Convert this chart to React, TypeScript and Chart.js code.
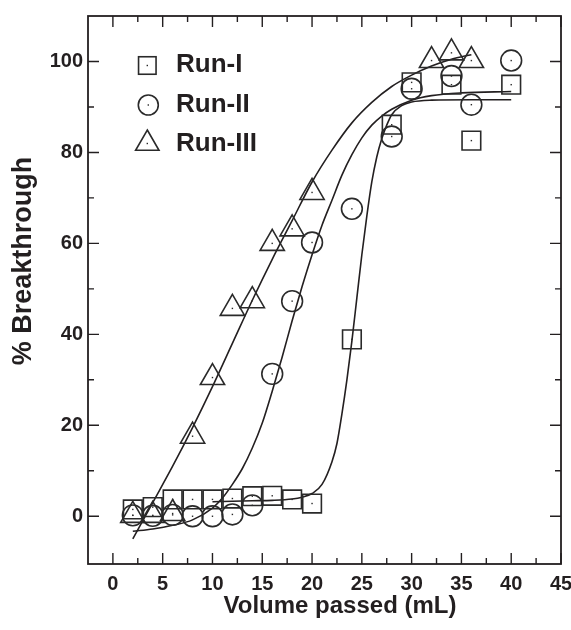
import React, { useEffect, useRef } from "react";
import { Chart, registerables } from "chart.js";

Chart.register(...registerables);

const FONT = "'Liberation Sans', Arial, Helvetica, sans-serif";
const INK = "#231f20";

// Measured points
const runIVolume = [2, 4, 6, 8, 10, 12, 14, 16, 18, 20, 24, 28, 30, 34, 36, 40];
const runIValues = [1.5, 2.0, 3.7, 3.7, 3.7, 3.9, 4.4, 4.5, 3.7, 2.8, 38.9, 86.1, 95.4, 94.9, 82.6, 94.9];
const runIIVolume = [2, 4, 6, 8, 10, 12, 14, 16, 18, 20, 24, 28, 30, 34, 36, 40];
const runIIValues = [0.2, 0.1, 0.3, 0.0, 0.0, 0.4, 2.4, 31.3, 47.3, 60.2, 67.6, 83.5, 94.0, 96.8, 90.5, 100.2];
const runIIIVolume = [2, 4, 6, 8, 10, 12, 14, 16, 18, 20, 32, 34, 36];
const runIIIValues = [0.2, 0.2, 0.6, 17.6, 30.5, 45.7, 47.4, 60.0, 63.2, 71.2, 100.2, 101.9, 100.2];

// Fitted curves
const fitIVolume = [10, 12, 14, 16, 18, 19, 20, 21, 22, 22.5, 23, 23.5, 24, 24.5, 25, 25.5, 26, 26.5, 27, 27.5, 28, 29, 30, 32, 36, 40];
const fitIValues = [3.2, 3.3, 3.4, 3.5, 3.8, 4.2, 5.0, 7.0, 12.0, 16.0, 22.5, 30.0, 38.5, 48.0, 57.5, 66.0, 73.5, 79.0, 83.0, 86.0, 88.3, 90.3, 91.1, 91.5, 91.6, 91.6];
const fitIIVolume = [2, 4, 6, 8, 10, 11, 12, 13, 14, 15, 16, 17, 18, 19, 20, 21, 22, 23, 24, 25, 26, 27, 28, 30, 32, 35, 40];
const fitIIValues = [-3.3, -2.8, -2.0, -0.8, 1.8, 4.0, 7.0, 10.5, 15.0, 20.5, 27.5, 35.0, 43.0, 50.5, 57.5, 64.0, 69.5, 75.0, 79.5, 83.2, 86.0, 88.0, 89.5, 91.5, 92.5, 93.1, 93.4];
const fitIIIVolume = [2, 4, 6, 8, 10, 12, 14, 16, 18, 20, 22, 24, 26, 28, 30, 32, 34, 36];
const fitIIIValues = [-5.0, 3.0, 11.0, 19.5, 28.5, 38.0, 47.5, 56.5, 65.0, 73.5, 80.5, 86.5, 91.0, 94.5, 97.0, 99.0, 100.5, 101.5];

// Axes
const xTicks = [0, 5, 10, 15, 20, 25, 30, 35, 40, 45];
const xMinorTicks = [2.5, 7.5, 12.5, 17.5, 22.5, 27.5, 32.5, 37.5, 42.5];
const yTicks = [0, 20, 40, 60, 80, 100];
const yMinorTicks = [10, 30, 50, 70, 90];
const seriesNames = ["Run-I", "Run-II", "Run-III"];
const xTitle = "Volume passed (mL)";
const yTitle = "% Breakthrough";

const pts = (xs: number[], ys: number[]) => xs.map((x, i) => ({ x, y: ys[i] }));

const markerDataset = (label: string, data: any[], style: string, radius: number) => ({
  label,
  data,
  pointStyle: style,
  pointRadius: radius,
  pointHoverRadius: radius,
  pointBorderWidth: 1.6,
  pointBorderColor: "#2a2a2a",
  pointBackgroundColor: "rgba(0,0,0,0)",
  showLine: false,
  isMarker: true,
  clip: false,
  order: 1,
});

const fitDataset = (data: any[]) => ({
  label: "fit",
  data,
  showLine: true,
  pointRadius: 0,
  borderColor: INK,
  borderWidth: 1.6,
  cubicInterpolationMode: "monotone",
  fill: false,
  isMarker: false,
  order: 2,
});

const framePlugin = {
  id: "frame",
  afterDatasetsDraw(chart: any) {
    const { ctx, chartArea } = chart;
    const { left, right, top, bottom } = chartArea;
    const xs = chart.scales.x;
    const ys = chart.scales.y;
    ctx.save();
    ctx.fillStyle = "#2a2a2a";
    chart.data.datasets.forEach((ds: any, i: number) => {
      if (!ds.isMarker) return;
      chart.getDatasetMeta(i).data.forEach((el: any) => {
        ctx.fillRect(el.x - 0.7, el.y - 0.7, 1.4, 1.4);
      });
    });
    ctx.strokeStyle = INK;
    ctx.lineWidth = 1.8;
    ctx.strokeRect(left, top, right - left, bottom - top);
    ctx.lineWidth = 1.4;
    const major = 11;
    const minor = 6;
    const vTick = (v: number, len: number) => {
      const px = xs.getPixelForValue(v);
      ctx.beginPath();
      ctx.moveTo(px, bottom);
      ctx.lineTo(px, bottom - len);
      ctx.moveTo(px, top);
      ctx.lineTo(px, top + len);
      ctx.stroke();
    };
    const hTick = (v: number, len: number) => {
      const py = ys.getPixelForValue(v);
      ctx.beginPath();
      ctx.moveTo(left, py);
      ctx.lineTo(left + len, py);
      ctx.moveTo(right, py);
      ctx.lineTo(right - len, py);
      ctx.stroke();
    };
    xTicks.forEach((v) => vTick(v, major));
    xMinorTicks.forEach((v) => vTick(v, minor));
    yTicks.forEach((v) => hTick(v, major));
    yMinorTicks.forEach((v) => hTick(v, minor));
    ctx.restore();
  },
  afterDraw(chart: any) {
    const { ctx } = chart;
    ctx.save();
    ctx.fillStyle = INK;
    ctx.font = `bold 24px ${FONT}`;
    ctx.textAlign = "center";
    ctx.textBaseline = "middle";
    ctx.fillText(xTitle, 340, 606);
    ctx.save();
    ctx.font = `bold 27px ${FONT}`;
    ctx.translate(24, 261);
    ctx.rotate(-Math.PI / 2);
    ctx.fillText(yTitle, 0, 0);
    ctx.restore();

    ctx.strokeStyle = "#2a2a2a";
    ctx.fillStyle = "#2a2a2a";
    ctx.lineWidth = 1.6;
    const s = 17.5;
    ctx.strokeRect(147.3 - s / 2, 65.5 - s / 2, s, s);
    ctx.fillRect(147.3 - 0.7, 65.5 - 0.7, 1.4, 1.4);
    ctx.beginPath();
    ctx.arc(148.3, 105, 10, 0, Math.PI * 2);
    ctx.stroke();
    ctx.fillRect(148.3 - 0.7, 105 - 0.7, 1.4, 1.4);
    const tr = 13.5;
    const tx = 147.3;
    const ty = 143.5;
    ctx.beginPath();
    ctx.moveTo(tx, ty - tr);
    ctx.lineTo(tx + tr * Math.sin((2 * Math.PI) / 3), ty + tr / 2);
    ctx.lineTo(tx - tr * Math.sin((2 * Math.PI) / 3), ty + tr / 2);
    ctx.closePath();
    ctx.stroke();
    ctx.fillRect(tx - 0.7, ty - 0.7, 1.4, 1.4);

    ctx.fillStyle = INK;
    ctx.font = `bold 26px ${FONT}`;
    ctx.textAlign = "left";
    ctx.textBaseline = "alphabetic";
    ctx.fillText(seriesNames[0], 176, 72);
    ctx.fillText(seriesNames[1], 176, 112);
    ctx.fillText(seriesNames[2], 176, 150.5);
    ctx.restore();
  },
};

export default function App() {
  const ref = useRef<HTMLCanvasElement | null>(null);
  useEffect(() => {
    if (!ref.current) return;
    const chart = new Chart(ref.current, {
      type: "scatter",
      data: {
        datasets: [
          fitDataset(pts(fitIVolume, fitIValues)),
          fitDataset(pts(fitIIVolume, fitIIValues)),
          fitDataset(pts(fitIIIVolume, fitIIIValues)),
          markerDataset(seriesNames[0], pts(runIVolume, runIValues), "rect", 13.2),
          markerDataset(seriesNames[1], pts(runIIVolume, runIIValues), "circle", 10.4),
          markerDataset(seriesNames[2], pts(runIIIVolume, runIIIValues), "triangle", 14),
        ] as any,
      },
      options: {
        animation: false,
        responsive: false,
        layout: { autoPadding: false, padding: { top: 16, right: 10, left: 0, bottom: 0 } },
        plugins: { legend: { display: false }, tooltip: { enabled: false } },
        scales: {
          x: {
            type: "linear",
            min: -2.5,
            max: 45,
            afterFit: (s: any) => {
              s.height = 66;
              s.paddingLeft = 0;
              s.paddingRight = 0;
              s.paddingTop = 0;
              s.paddingBottom = 0;
            },
            afterBuildTicks: (s: any) => {
              s.ticks = xTicks.map((v) => ({ value: v }));
            },
            grid: { display: false, drawTicks: false },
            border: { display: false },
            ticks: {
              padding: 8,
              color: INK,
              font: { family: FONT, size: 20, weight: "bold" },
              maxRotation: 0,
            },
          },
          y: {
            type: "linear",
            min: -10.5,
            max: 110,
            afterFit: (s: any) => {
              s.width = 88;
              s.paddingLeft = 0;
              s.paddingRight = 0;
              s.paddingTop = 0;
              s.paddingBottom = 0;
            },
            afterBuildTicks: (s: any) => {
              s.ticks = yTicks.map((v) => ({ value: v }));
            },
            grid: { display: false, drawTicks: false },
            border: { display: false },
            ticks: {
              padding: 5,
              color: INK,
              font: { family: FONT, size: 20, weight: "bold" },
            },
          },
        },
      } as any,
      plugins: [framePlugin],
    });
    return () => chart.destroy();
  }, []);
  return (
    <div style={{ position: "fixed", left: 0, top: 0, width: 571, height: 630, background: "#fff" }}>
      <canvas ref={ref} width={571} height={630} style={{ display: "block" }} />
    </div>
  );
}
